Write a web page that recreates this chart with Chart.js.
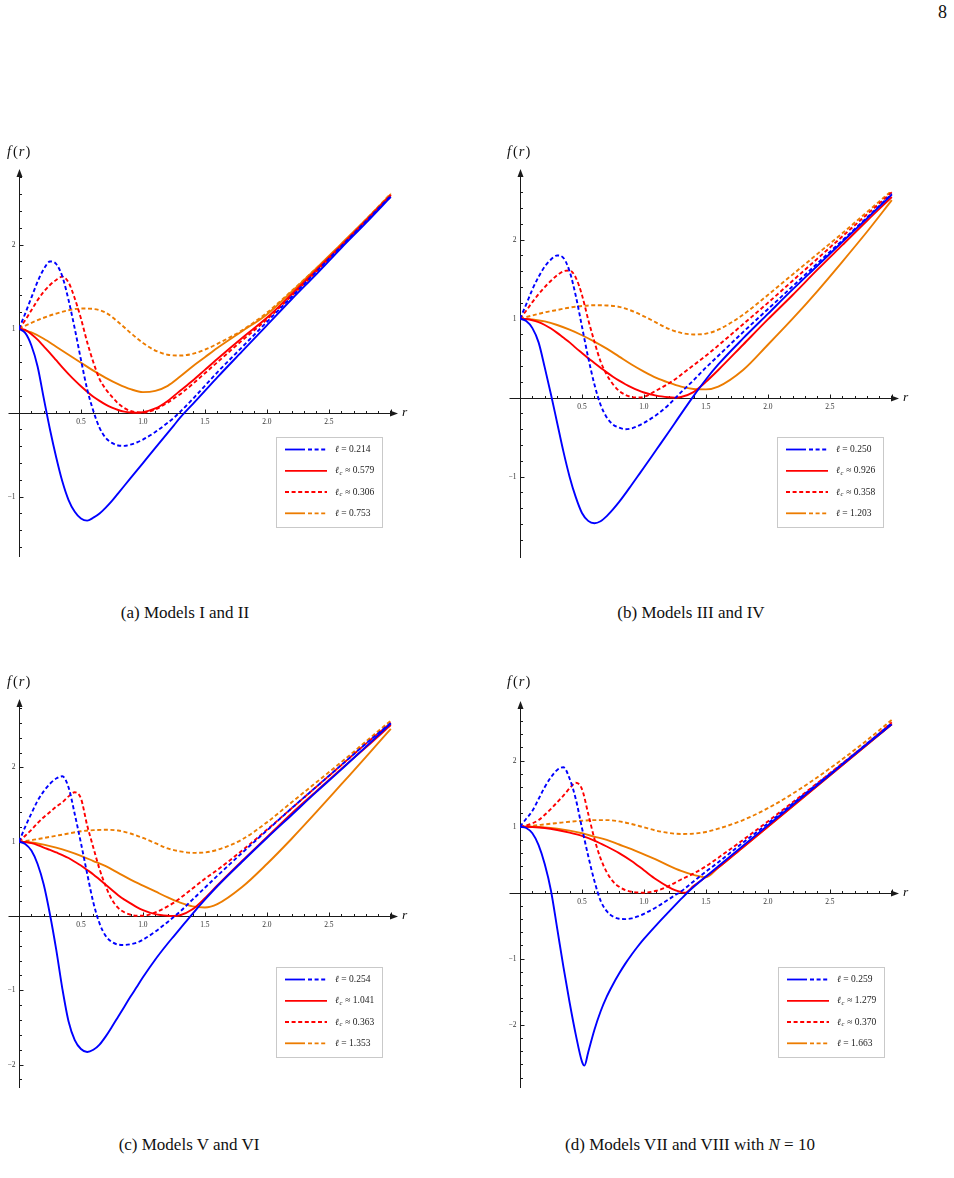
<!DOCTYPE html>
<html>
<head>
<meta charset="utf-8">
<title>f(r) for Models I–VIII</title>
<script src="https://cdn.jsdelivr.net/npm/chart.js@4.4.1/dist/chart.umd.min.js"></script>
<style>
  body { margin: 0; background: #fff; }
  #page { position: relative; width: 954px; height: 1178px; overflow: hidden;
          font-family: "Liberation Serif", "Times New Roman", serif; color: #111; }
  #page canvas { position: absolute; }
  .caption { position: absolute; transform: translateX(-50%); white-space: nowrap;
             font-size: 17px; line-height: 18px; }
  #pageno { position: absolute; right: 7px; top: 2px; font-size: 18px; }
</style>
</head>
<body>
<div id="page">
  <div id="pageno">8</div>
  <canvas id="chartA" width="440" height="440" style="left:0;top:140px"></canvas>
  <canvas id="chartB" width="440" height="440" style="left:500px;top:140px"></canvas>
  <canvas id="chartC" width="440" height="440" style="left:0;top:670px"></canvas>
  <canvas id="chartD" width="440" height="440" style="left:500px;top:670px"></canvas>
  <div class="caption" style="left:185px;top:604px">(a) Models I and II</div>
  <div class="caption" style="left:691px;top:604px">(b) Models III and IV</div>
  <div class="caption" style="left:189px;top:1136px">(c) Models V and VI</div>
  <div class="caption" style="left:690px;top:1136px">(d) Models VII and VIII with <i>N</i> = 10</div>
</div>

<script>
const rFine = [0, 0.05, 0.1, 0.15, 0.2, 0.25, 0.3, 0.35, 0.4, 0.45, 0.5, 0.55, 0.6, 0.65, 0.7, 0.75, 0.8, 0.85, 0.9, 0.95, 1.0,
               1.1, 1.2, 1.25, 1.3, 1.4, 1.5, 1.6, 1.8, 2.0, 2.2, 2.4, 2.6, 2.8, 3.0];
const rCoarse = [0, 0.1, 0.2, 0.3, 0.4, 0.5, 0.6, 0.7, 0.8, 0.9, 1.0, 1.1, 1.2, 1.3, 1.4, 1.5, 1.6, 1.8, 2.0, 2.2, 2.4, 2.6, 2.8, 3.0];
const rBlueSolidD = [0, 0.05, 0.1, 0.15, 0.2, 0.25, 0.3, 0.35, 0.4, 0.45, 0.5, 0.52, 0.55, 0.6, 0.65, 0.7, 0.75, 0.8, 0.85, 0.9, 0.95, 1.0,
                     1.1, 1.2, 1.3, 1.35, 1.4, 1.5, 1.6, 1.8, 2.0, 2.2, 2.4, 2.6, 2.8, 3.0];
const rRedSolidD = [0, 0.1, 0.2, 0.3, 0.4, 0.5, 0.6, 0.7, 0.8, 0.9, 1.0, 1.1, 1.2, 1.25, 1.3, 1.33, 1.4, 1.5, 1.6,
                    1.8, 2.0, 2.2, 2.4, 2.6, 2.8, 3.0];

/*  (a) Models I and II  */
const blueSolidA = [1, 0.95, 0.8, 0.55, 0.17, -0.2, -0.53, -0.82, -1.04, -1.18, -1.26, -1.285, -1.25, -1.2, -1.13, -1.05, -0.96, -0.87, -0.78, -0.69, -0.6,
                    -0.42, -0.24, -0.15, -0.06, 0.1, 0.26, 0.42, 0.73, 1.04, 1.35, 1.65, 1.96, 2.26, 2.57];
const blueDashA = [1, 1.18, 1.37, 1.56, 1.71, 1.8, 1.77, 1.62, 1.34, 1.0, 0.63, 0.28, 0.02, -0.18, -0.3, -0.36, -0.39, -0.395, -0.38, -0.355, -0.32,
                   -0.23, -0.12, -0.06, 0.01, 0.16, 0.32, 0.48, 0.78, 1.08, 1.38, 1.68, 1.98, 2.28, 2.58];
const redSolidA = [1, 0.985, 0.935, 0.87, 0.79, 0.71, 0.625, 0.54, 0.46, 0.385, 0.315, 0.25, 0.19, 0.14, 0.095, 0.06, 0.032, 0.013, 0.003, 0, 0.005,
                   0.05, 0.14, 0.2, 0.26, 0.38, 0.51, 0.64, 0.89, 1.13, 1.41, 1.7, 1.99, 2.29, 2.59];
const redDashA = [1, 1.1, 1.22, 1.34, 1.44, 1.52, 1.58, 1.62, 1.55, 1.36, 1.12, 0.84, 0.6, 0.4, 0.28, 0.19, 0.11, 0.055, 0.02, 0.005, 0,
                  0.04, 0.12, 0.17, 0.22, 0.34, 0.47, 0.6, 0.86, 1.11, 1.39, 1.68, 1.98, 2.28, 2.59];
const orangeSolidA = [1, 0.955, 0.88, 0.785, 0.69, 0.595, 0.5, 0.415, 0.34, 0.28, 0.245, 0.26, 0.32, 0.43, 0.55, 0.66, 0.77,
                      0.97, 1.17, 1.44, 1.72, 2.01, 2.3, 2.6];
const orangeDashA = [1, 1.07, 1.13, 1.18, 1.22, 1.24, 1.235, 1.19, 1.08, 0.95, 0.83, 0.74, 0.69, 0.68, 0.7, 0.75, 0.82,
                     0.98, 1.19, 1.45, 1.72, 2.0, 2.3, 2.61];

/*  (b) Models III and IV  */
const blueSolidB = [1, 0.97, 0.88, 0.7, 0.38, 0.04, -0.32, -0.68, -1.0, -1.26, -1.46, -1.56, -1.59, -1.565, -1.5, -1.415, -1.32, -1.215, -1.105, -0.995, -0.885,
                    -0.66, -0.435, -0.32, -0.205, 0.02, 0.23, 0.42, 0.75, 1.06, 1.37, 1.67, 1.97, 2.27, 2.57];
const blueDashB = [1, 1.18, 1.37, 1.53, 1.66, 1.75, 1.8, 1.77, 1.6, 1.29, 0.9, 0.51, 0.17, -0.09, -0.25, -0.34, -0.38, -0.4, -0.39, -0.36, -0.32,
                   -0.22, -0.09, -0.01, 0.07, 0.22, 0.38, 0.53, 0.83, 1.12, 1.41, 1.7, 1.99, 2.28, 2.58];
const redSolidB = [1, 0.995, 0.98, 0.955, 0.92, 0.875, 0.82, 0.76, 0.7, 0.63, 0.565, 0.5, 0.44, 0.38, 0.32, 0.265, 0.215, 0.17, 0.13, 0.095, 0.065,
                   0.025, 0.005, 0, 0.008, 0.07, 0.2, 0.35, 0.67, 0.99, 1.3, 1.62, 1.93, 2.24, 2.54];
const redDashB = [1, 1.1, 1.21, 1.31, 1.4, 1.48, 1.55, 1.6, 1.61, 1.52, 1.3, 0.99, 0.71, 0.46, 0.29, 0.17, 0.085, 0.035, 0.008, 0.001, 0.01,
                  0.09, 0.18, 0.23, 0.29, 0.41, 0.53, 0.66, 0.93, 1.2, 1.48, 1.76, 2.04, 2.32, 2.6];
const orangeSolidB = [1, 0.99, 0.965, 0.92, 0.86, 0.79, 0.71, 0.62, 0.52, 0.42, 0.33, 0.25, 0.19, 0.14, 0.11, 0.105, 0.14,
                      0.35, 0.67, 1.0, 1.35, 1.72, 2.1, 2.5];
const orangeDashB = [1, 1.04, 1.08, 1.11, 1.14, 1.16, 1.17, 1.167, 1.15, 1.1, 1.03, 0.95, 0.87, 0.82, 0.8, 0.81, 0.86,
                     1.05, 1.3, 1.56, 1.82, 2.08, 2.35, 2.62];

/*  (c) Models V and VI  */
const blueSolidC = [1, 0.97, 0.88, 0.7, 0.42, 0.02, -0.45, -0.98, -1.42, -1.67, -1.79, -1.83, -1.8, -1.73, -1.62, -1.49, -1.355, -1.22, -1.085, -0.955, -0.825,
                    -0.585, -0.37, -0.27, -0.17, 0.03, 0.22, 0.4, 0.73, 1.05, 1.36, 1.67, 1.97, 2.28, 2.59];
const blueDashC = [1, 1.2, 1.38, 1.55, 1.68, 1.78, 1.85, 1.88, 1.73, 1.37, 0.98, 0.57, 0.18, -0.1, -0.27, -0.35, -0.385, -0.39, -0.38, -0.36, -0.32,
                   -0.21, -0.08, -0.01, 0.06, 0.22, 0.38, 0.54, 0.85, 1.15, 1.45, 1.74, 2.03, 2.32, 2.6];
const redSolidC = [1, 0.995, 0.98, 0.955, 0.92, 0.89, 0.855, 0.82, 0.78, 0.73, 0.68, 0.62, 0.56, 0.49, 0.42, 0.35, 0.28, 0.22, 0.17, 0.12, 0.08,
                   0.025, 0.003, 0, 0.01, 0.09, 0.24, 0.41, 0.74, 1.06, 1.38, 1.68, 1.98, 2.27, 2.57];
const redDashC = [1, 1.08, 1.16, 1.25, 1.33, 1.4, 1.47, 1.53, 1.61, 1.665, 1.58, 1.22, 0.92, 0.63, 0.4, 0.22, 0.11, 0.05, 0.017, 0.003, 0.003,
                  0.05, 0.13, 0.18, 0.24, 0.37, 0.5, 0.62, 0.88, 1.16, 1.45, 1.74, 2.03, 2.32, 2.6];
const orangeSolidC = [1, 0.99, 0.96, 0.92, 0.87, 0.81, 0.74, 0.67, 0.58, 0.49, 0.41, 0.33, 0.25, 0.18, 0.13, 0.115, 0.16,
                      0.39, 0.7, 1.04, 1.4, 1.77, 2.14, 2.52];
const orangeDashC = [1, 1.02, 1.05, 1.08, 1.11, 1.14, 1.155, 1.16, 1.15, 1.11, 1.05, 0.98, 0.91, 0.87, 0.85, 0.855, 0.89,
                     1.03, 1.26, 1.53, 1.8, 2.07, 2.35, 2.63];

/*  (d) Models VII and VIII, N = 10  */
const blueSolidD = [1, 0.98, 0.9, 0.72, 0.43, 0.03, -0.54, -1.12, -1.66, -2.15, -2.56, -2.62, -2.42, -2.08, -1.8, -1.575, -1.39, -1.225, -1.075, -0.94, -0.815, -0.7,
                    -0.49, -0.29, -0.095, 0, 0.085, 0.245, 0.4, 0.71, 1.02, 1.33, 1.63, 1.94, 2.25, 2.55];
const blueDashD = [1, 1.12, 1.24, 1.42, 1.6, 1.75, 1.86, 1.9, 1.73, 1.42, 0.98, 0.56, 0.18, -0.12, -0.28, -0.36, -0.395, -0.4, -0.39, -0.36, -0.32,
                   -0.22, -0.1, -0.04, 0.02, 0.17, 0.32, 0.46, 0.76, 1.05, 1.35, 1.65, 1.95, 2.26, 2.57];
const redSolidD = [1, 0.995, 0.98, 0.95, 0.91, 0.86, 0.79, 0.7, 0.6, 0.48, 0.34, 0.2, 0.085, 0.04, 0.01, 0, 0.1, 0.24, 0.38,
                   0.69, 1.0, 1.31, 1.62, 1.93, 2.24, 2.55];
const redDashD = [1, 1.02, 1.05, 1.1, 1.18, 1.27, 1.37, 1.47, 1.58, 1.665, 1.57, 1.2, 0.82, 0.52, 0.31, 0.17, 0.09, 0.04, 0.015, 0.003, 0,
                  0.03, 0.1, 0.15, 0.2, 0.29, 0.4, 0.53, 0.8, 1.08, 1.37, 1.66, 1.96, 2.26, 2.58];
const orangeSolidD = [1, 0.998, 0.99, 0.97, 0.94, 0.9, 0.85, 0.8, 0.73, 0.66, 0.58, 0.5, 0.41, 0.33, 0.27, 0.235, 0.38,
                      0.69, 1.0, 1.31, 1.62, 1.93, 2.24, 2.55];
const orangeDashD = [1, 1.015, 1.035, 1.055, 1.075, 1.09, 1.1, 1.1, 1.08, 1.04, 0.99, 0.94, 0.905, 0.89, 0.895, 0.92, 0.97,
                     1.1, 1.28, 1.5, 1.75, 2.02, 2.31, 2.62];

/*  legend values (ℓ, ℓc, ℓc, ℓ)  */
const legendA = ['0.214', '0.579', '0.306', '0.753'];
const legendB = ['0.250', '0.926', '0.358', '1.203'];
const legendC = ['0.254', '1.041', '0.363', '1.353'];
const legendD = ['0.259', '1.279', '0.370', '1.663'];

/*  ticks  */
const xTickValues = [0.5, 1.0, 1.5, 2.0, 2.5];
const xTickLabels = ['0.5', '1.0', '1.5', '2.0', '2.5'];
const yMajorA = [-1, 1, 2];
const yMajorB = [-1, 1, 2];
const yMajorC = [-2, -1, 1, 2];
const yMajorD = [-2, -1, 1, 2];

const BLUE = '#0000ff', RED = '#ff0000', ORANGE = '#ec7c00';
const DASH = [4, 2.6];
const SERIF = '"Liberation Serif", "DejaVu Serif", serif';

function pts(rs, ys) {
	return rs.map((r, i) => ({ x: r, y: ys[i] }));
}

function curve(rs, ys, color, dashed) {
	return {
		data: pts(rs, ys),
		borderColor: color,
		borderWidth: 1.9,
		borderDash: dashed ? DASH : [],
		pointRadius: 0,
		fill: false,
		cubicInterpolationMode: 'monotone'
	};
}

function drawAxes(chart, cfg) {
	let ctx = chart.ctx;
	let xs = chart.scales.x, ys = chart.scales.y;
	let px = v => Math.round(xs.getPixelForValue(v)) + 0.5;
	let py = v => Math.round(ys.getPixelForValue(v)) + 0.5;
	let x0 = px(0), y0 = py(0);
	let xEnd = xs.getPixelForValue(xs.max);
	let yTop = ys.getPixelForValue(ys.max);
	let yBot = ys.getPixelForValue(ys.min);

	ctx.save();
	ctx.strokeStyle = '#1a1a1a';
	ctx.fillStyle = '#1a1a1a';
	ctx.lineWidth = 1;
	ctx.beginPath();
	ctx.moveTo(px(-0.09), y0);
	ctx.lineTo(xEnd - 5, y0);
	ctx.moveTo(x0, yBot);
	ctx.lineTo(x0, yTop + 5);

	/* x ticks every 0.1, longer at 0.5 */
	for (let k = 1; k <= 30; k++) {
		let t = px(k / 10), len = k % 5 === 0 ? 4 : 2.5;
		ctx.moveTo(t, y0);
		ctx.lineTo(t, y0 - len);
	}
	/* y ticks every 0.2, longer at integers */
	let kLo = Math.ceil((ys.min + 0.05) / 0.2), kHi = Math.floor((ys.max - 0.05) / 0.2);
	for (let k = kLo; k <= kHi; k++) {
		if (k === 0) continue;
		let t = py(k * 0.2), len = k % 5 === 0 ? 4 : 2.5;
		ctx.moveTo(x0, t);
		ctx.lineTo(x0 + len, t);
	}
	ctx.stroke();

	/* arrow heads */
	ctx.beginPath();
	ctx.moveTo(xEnd + 1, y0);
	ctx.lineTo(xEnd - 7, y0 - 3);
	ctx.lineTo(xEnd - 7, y0 + 3);
	ctx.closePath();
	ctx.fill();
	ctx.beginPath();
	ctx.moveTo(x0, yTop - 1);
	ctx.lineTo(x0 - 3, yTop + 7);
	ctx.lineTo(x0 + 3, yTop + 7);
	ctx.closePath();
	ctx.fill();

	/* tick labels */
	ctx.fillStyle = '#333';
	ctx.font = '7.5px ' + SERIF;
	ctx.textAlign = 'center';
	ctx.textBaseline = 'top';
	xTickValues.forEach((v, i) => ctx.fillText(xTickLabels[i], xs.getPixelForValue(v), y0 + 5));
	ctx.textAlign = 'right';
	ctx.textBaseline = 'middle';
	cfg.yMajor.forEach(v => {
		let lab = v < 0 ? '\u2212' + (-v) : String(v);
		ctx.fillText(lab, x0 - 4, ys.getPixelForValue(v));
	});
	ctx.restore();
}

function drawTitles(chart) {
	let ctx = chart.ctx;
	let xs = chart.scales.x, ys = chart.scales.y;
	let y0 = ys.getPixelForValue(0);
	ctx.save();
	ctx.fillStyle = '#111';
	ctx.textBaseline = 'alphabetic';
	ctx.textAlign = 'left';
	/* f(r) */
	let x = 7, y = 16;
	let parts = [['f', 'italic '], ['(', ''], ['r', 'italic '], [')', '']];
	parts.forEach(p => {
		ctx.font = p[1] + '14.5px ' + SERIF;
		ctx.fillText(p[0], x, y);
		x += ctx.measureText(p[0]).width + (p[0] === 'f' ? 2 : 1);
	});
	/* r */
	ctx.font = 'italic 13.5px ' + SERIF;
	ctx.fillText('r', xs.getPixelForValue(xs.max) + 5, y0 + 3);
	ctx.restore();
}

function drawSample(ctx, x1, x2, y, color, kind) {
	ctx.strokeStyle = color;
	ctx.lineWidth = 1.8;
	ctx.beginPath();
	if (kind === 'solid') {
		ctx.setLineDash([]);
		ctx.moveTo(x1, y); ctx.lineTo(x2, y);
		ctx.stroke();
		return;
	}
	if (kind === 'mix') {
		ctx.setLineDash([]);
		ctx.moveTo(x1, y); ctx.lineTo(x1 + 20, y);
		ctx.stroke();
		ctx.beginPath();
		x1 += 23;
	}
	ctx.setLineDash(DASH);
	ctx.moveTo(x1, y); ctx.lineTo(x2, y);
	ctx.stroke();
	ctx.setLineDash([]);
}

function drawLegend(chart, cfg) {
	let ctx = chart.ctx;
	let bx = cfg.legendX, by = 297, bw = 106, bh = 90;
	let rows = [
		{ color: BLUE, kind: 'mix', sub: false, rel: '=', dy: 12.5 },
		{ color: RED, kind: 'solid', sub: true, rel: '\u2248', dy: 33.8 },
		{ color: RED, kind: 'dash', sub: true, rel: '\u2248', dy: 55 },
		{ color: ORANGE, kind: 'mix', sub: false, rel: '=', dy: 76.3 }
	];
	ctx.save();
	ctx.fillStyle = '#fff';
	ctx.fillRect(bx, by, bw, bh);
	ctx.strokeStyle = '#c9c9c9';
	ctx.lineWidth = 1;
	ctx.strokeRect(bx + 0.5, by + 0.5, bw, bh);
	rows.forEach((row, i) => {
		let y = by + row.dy;
		drawSample(ctx, bx + 9, bx + 51, y, row.color, row.kind);
		let x = bx + 59;
		ctx.fillStyle = '#222';
		ctx.textAlign = 'left';
		ctx.textBaseline = 'middle';
		ctx.font = 'italic 9.5px ' + SERIF;
		ctx.fillText('\u2113', x, y);
		x += ctx.measureText('\u2113').width;
		if (row.sub) {
			ctx.font = 'italic 6.5px ' + SERIF;
			ctx.fillText('c', x + 0.5, y + 2.5);
			x += ctx.measureText('c').width + 1;
		}
		ctx.font = '9.5px ' + SERIF;
		ctx.fillText(' ' + row.rel + ' ' + cfg.legend[i], x, y);
	});
	ctx.restore();
}

function makePanel(canvasId, cfg) {
	let datasets = cfg.curves.map(c => curve(c[0], c[1], c[2], c[3]));
	return new Chart(document.getElementById(canvasId).getContext('2d'), {
		type: 'line',
		data: { datasets: datasets },
		options: {
			responsive: false,
			animation: false,
			devicePixelRatio: 1,
			layout: { padding: cfg.pad },
			scales: {
				x: { type: 'linear', min: 0, max: 3.05, display: false },
				y: { type: 'linear', min: cfg.yMin, max: cfg.yMax, display: false }
			},
			plugins: {
				legend: { display: false },
				tooltip: { enabled: false }
			}
		},
		plugins: [{
			id: 'mathAxes',
			beforeDatasetsDraw(chart) { drawAxes(chart, cfg); },
			afterDraw(chart) {
				drawTitles(chart);
				drawLegend(chart, cfg);
			}
		}]
	});
}

makePanel('chartA', {
	yMin: -1.718, yMax: 2.889, yMajor: yMajorA, legend: legendA, legendX: 276,
	pad: { left: 19, top: 30, right: 43, bottom: 23 },
	curves: [
		[rFine, blueSolidA, BLUE, false], [rFine, blueDashA, BLUE, true],
		[rFine, redSolidA, RED, false], [rFine, redDashA, RED, true],
		[rCoarse, orangeSolidA, ORANGE, false], [rCoarse, orangeDashA, ORANGE, true]
	]
});

makePanel('chartB', {
	yMin: -2.03, yMax: 2.882, yMajor: yMajorB, legend: legendB, legendX: 277,
	pad: { left: 20, top: 30, right: 42, bottom: 22 },
	curves: [
		[rFine, blueSolidB, BLUE, false], [rFine, blueDashB, BLUE, true],
		[rFine, redSolidB, RED, false], [rFine, redDashB, RED, true],
		[rCoarse, orangeSolidB, ORANGE, false], [rCoarse, orangeDashB, ORANGE, true]
	]
});

makePanel('chartC', {
	yMin: -2.315, yMax: 2.907, yMajor: yMajorC, legend: legendC, legendX: 276,
	pad: { left: 19, top: 30, right: 43, bottom: 22 },
	curves: [
		[rFine, blueSolidC, BLUE, false], [rFine, blueDashC, BLUE, true],
		[rFine, redSolidC, RED, false], [rFine, redDashC, RED, true],
		[rCoarse, orangeSolidC, ORANGE, false], [rCoarse, orangeDashC, ORANGE, true]
	]
});

makePanel('chartD', {
	yMin: -2.959, yMax: 2.889, yMajor: yMajorD, legend: legendD, legendX: 278,
	pad: { left: 20, top: 32, right: 42, bottom: 22 },
	curves: [
		[rBlueSolidD, blueSolidD, BLUE, false], [rFine, blueDashD, BLUE, true],
		[rRedSolidD, redSolidD, RED, false], [rFine, redDashD, RED, true],
		[rCoarse, orangeSolidD, ORANGE, false], [rCoarse, orangeDashD, ORANGE, true]
	]
});
</script>
</body>
</html>
